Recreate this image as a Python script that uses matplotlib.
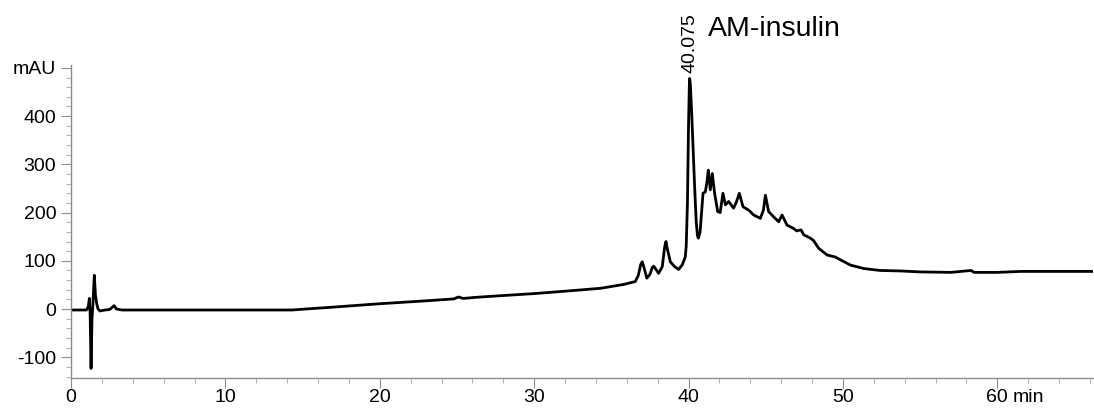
import matplotlib
matplotlib.use("Agg")
import matplotlib.pyplot as plt
from matplotlib.ticker import MultipleLocator, FixedLocator

plt.rcParams["font.family"] = ["Liberation Sans", "DejaVu Sans"]

# chromatogram trace (min, mAU)
time_min = [0.0, 1.0, 1.12, 1.19, 1.24, 1.30, 1.36, 1.42, 1.51, 1.58, 1.66,
            1.75, 1.88, 2.2, 2.5, 2.65, 2.79, 2.95, 3.3, 4.5, 8.0, 12.0, 14.3,
            17.0, 20.0, 22.5, 24.8, 25.1, 25.4, 25.8, 26.1, 28.0, 30.0, 32.0,
            34.3, 35.8, 36.55, 36.75, 36.9, 37.0, 37.1, 37.3, 37.5, 37.65,
            37.74, 37.9, 38.06, 38.3, 38.45, 38.54, 38.62, 38.82, 39.1, 39.36,
            39.6, 39.79, 39.85, 39.93, 40.0, 40.05, 40.075, 40.12, 40.2, 40.3,
            40.4, 40.5, 40.58, 40.64, 40.75, 40.94, 41.09, 41.2, 41.28, 41.41,
            41.54, 41.69, 41.89, 42.05, 42.23, 42.39, 42.6, 42.92, 43.1,
            43.29, 43.53, 43.9, 44.22, 44.65, 44.85, 44.98, 45.19, 45.52,
            45.84, 46.06, 46.38, 46.81, 47.0, 47.29, 47.46, 47.89, 48.1,
            48.43, 48.98, 49.5, 49.84, 50.5, 51.35, 52.4, 53.7, 55.0, 57.0,
            58.3, 58.5, 60.0, 61.5, 63.0, 66.2]
absorbance = [-2, -2, 5, 22, -10, -123, -20, 10, 70, 30, 12,
              0, -4, -2, -1, 3, 7, 0, -2, -2, -2, -2, -2,
              4, 11, 16, 21, 25, 22, 23, 24, 28, 32, 37,
              43, 51, 57, 70, 92, 98, 88, 64, 72, 86,
              89, 82, 74, 88, 128, 140, 126, 98, 88, 82,
              92, 108, 130, 220, 380, 460, 478, 465, 410, 330,
              250, 180, 152, 147, 160, 240, 243, 265, 288, 247,
              281, 240, 202, 200, 240, 216, 223, 209, 222,
              240, 212, 205, 195, 188, 205, 236, 202, 191,
              181, 195, 174, 167, 162, 164, 154, 147, 142,
              126, 112, 108, 102, 91, 84, 80, 79, 77, 76,
              80, 76, 76, 78, 78, 78]

peak_time = 40.075
peak_height = 478
peak_name = "AM-insulin"

x_ticks = [0, 10, 20, 30, 40, 50, 60]
x_labels = ["0", "10", "20", "30", "40", "50", "60"]
y_ticks = [-100, 0, 100, 200, 300, 400, 500]
y_labels = ["-100", "0", "100", "200", "300", "400", "mAU"]

fig = plt.figure(figsize=(10.94, 4.08), dpi=100)
ax = fig.add_axes([71 / 1094, 30 / 408, 1022 / 1094, 313 / 408])

ax.plot(time_min, absorbance, color="black", lw=2.0, solid_joinstyle="round")

ax.set_xlim(0, 66.2)
ax.set_ylim(-143, 506)

for side in ("top", "right"):
    ax.spines[side].set_visible(False)
for side in ("left", "bottom"):
    ax.spines[side].set_color("#8c8c8c")
    ax.spines[side].set_linewidth(1.0)

ax.xaxis.set_major_locator(FixedLocator(x_ticks))
ax.set_xticklabels(x_labels)
ax.xaxis.set_minor_locator(MultipleLocator(2))
ax.yaxis.set_major_locator(FixedLocator(y_ticks))
ax.set_yticklabels(y_labels)
ax.yaxis.set_minor_locator(MultipleLocator(20))

ax.tick_params(which="major", length=7.2, width=0.8, color="#8c8c8c",
               labelsize=14)
ax.tick_params(axis="y", which="major", pad=3.5)
ax.tick_params(axis="x", which="major", pad=0.5)
ax.tick_params(which="minor", length=3.6, width=0.7, color="#b0b0b0")

# "min" unit next to the last x label
ax.annotate("min", xy=(60, 0), xycoords=("data", "axes fraction"),
            xytext=(11, -7.7), textcoords="offset points",
            ha="left", va="top", fontsize=14)

ax.annotate(f"{peak_time:.3f}", xy=(peak_time, peak_height),
            xytext=(0, 4), textcoords="offset points",
            rotation=90, ha="center", va="bottom", fontsize=14,
            annotation_clip=False)

fig.text(708 / 1094, 1 - 36 / 408, peak_name, fontsize=20.5,
         ha="left", va="baseline")

fig.savefig("out.png", dpi=100)
